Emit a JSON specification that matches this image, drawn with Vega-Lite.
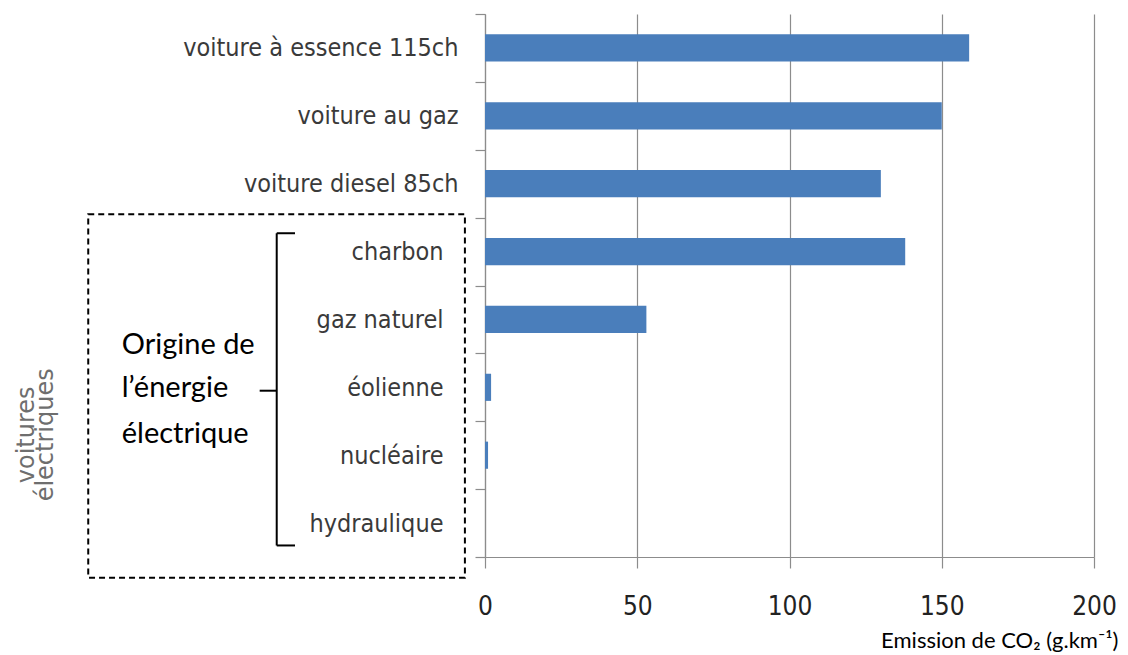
{
  "$schema": "https://vega.github.io/schema/vega-lite/v6.json",
  "autosize": {"type": "none"},
  "padding": {"left": 485, "top": 14, "right": 34, "bottom": 98},
  "width": 609,
  "height": 543,
  "background": "white",
  "config": {"view": {"stroke": null}},
  "datasets": {
    "emissions": [
      {"categorie": "voiture à essence 115ch", "emission": 159},
      {"categorie": "voiture au gaz", "emission": 150},
      {"categorie": "voiture diesel 85ch", "emission": 130},
      {"categorie": "charbon", "emission": 138},
      {"categorie": "gaz naturel", "emission": 53},
      {"categorie": "éolienne", "emission": 2},
      {"categorie": "nucléaire", "emission": 1},
      {"categorie": "hydraulique", "emission": 0}
    ],
    "cadre": [{"x0": -130.3, "x1": -6.6, "y0": 2.95, "y1": 8.305}],
    "accolade": [
      {"xa": -68.4, "xb": -68.4, "ya": 3.23, "yb": 7.83},
      {"xa": -68.4, "xb": -62.4, "ya": 3.23, "yb": 3.23},
      {"xa": -68.4, "xb": -62.4, "ya": 7.83, "yb": 7.83},
      {"xa": -74.0, "xb": -68.4, "ya": 5.55, "yb": 5.55}
    ],
    "origine": [
      {"texte": "Origine de", "x": -119.3, "y": 5.01},
      {"texte": "l’énergie", "x": -119.3, "y": 5.64},
      {"texte": "électrique", "x": -119.3, "y": 6.32}
    ],
    "groupe": [{"texte": "voitures\nélectriques", "x": -150.5, "y": 6.2}]
  },
  "layer": [
    {
      "data": {"name": "emissions"},
      "mark": {"type": "bar", "color": "#4a7ebb", "height": {"band": 0.4}},
      "encoding": {
        "y": {
          "field": "categorie",
          "type": "nominal",
          "sort": null,
          "scale": {"paddingInner": 0, "paddingOuter": 0},
          "axis": {
            "title": null,
            "domainColor": "#8c8c8c",
            "domainWidth": 1.2,
            "tickColor": "#8c8c8c",
            "tickWidth": 1.2,
            "tickSize": 10,
            "tickBand": "extent",
            "labelPadding": {
              "condition": {"test": "indexof(['voiture à essence 115ch','voiture au gaz','voiture diesel 85ch'], datum.value) >= 0", "value": 17},
              "value": 32
            },
            "labelFont": "Liberation Sans Narrow, DejaVu Sans Condensed, sans-serif",
            "labelFontSize": 25,
            "labelColor": "#3a3a3a",
            "labelLimit": 400,
            "grid": false
          }
        },
        "x": {
          "field": "emission",
          "type": "quantitative",
          "scale": {"domain": [0, 200], "nice": false},
          "axis": {
            "values": [0, 50, 100, 150, 200],
            "grid": true,
            "gridColor": "#8c8c8c",
            "gridWidth": 1.2,
            "gridOpacity": 1,
            "domainColor": "#8c8c8c",
            "domainWidth": 1.2,
            "tickColor": "#8c8c8c",
            "tickWidth": 1.2,
            "tickSize": 11,
            "labelFlush": false,
            "labelPadding": 25,
            "labelFont": "Liberation Sans Narrow, DejaVu Sans Condensed, sans-serif",
            "labelFontSize": 26,
            "labelColor": "#222222",
            "title": "Emission de CO₂ (g.km⁻¹)",
            "titleFont": "Lato",
            "titleFontSize": 22,
            "titleFontWeight": "normal",
            "titleColor": "#000000",
            "titleAlign": "right",
            "titleBaseline": "alphabetic",
            "titleX": 633,
            "titleY": 90
          }
        }
      }
    },
    {
      "layer": [
        {
          "data": {"name": "cadre"},
          "mark": {"type": "rect", "fill": null, "stroke": "#000000", "strokeWidth": 2, "strokeDash": [6, 4]},
          "encoding": {
            "x": {"field": "x0", "type": "quantitative", "scale": {"domain": [0, 200], "nice": false}},
            "x2": {"field": "x1"},
            "y": {"field": "y0", "type": "quantitative", "scale": {"domain": [0, 8], "reverse": true, "nice": false, "zero": false}, "axis": null},
            "y2": {"field": "y1"}
          }
        },
        {
          "data": {"name": "accolade"},
          "mark": {"type": "rule", "stroke": "#000000", "strokeWidth": 2},
          "encoding": {
            "x": {"field": "xa", "type": "quantitative", "scale": {"domain": [0, 200], "nice": false}},
            "x2": {"field": "xb"},
            "y": {"field": "ya", "type": "quantitative"},
            "y2": {"field": "yb"}
          }
        },
        {
          "data": {"name": "origine"},
          "mark": {"type": "text", "align": "left", "baseline": "alphabetic", "font": "Lato", "fontSize": 29, "color": "#000000"},
          "encoding": {
            "x": {"field": "x", "type": "quantitative", "scale": {"domain": [0, 200], "nice": false}},
            "y": {"field": "y", "type": "quantitative"},
            "text": {"field": "texte"}
          }
        },
        {
          "data": {"name": "groupe"},
          "mark": {"type": "text", "align": "center", "baseline": "middle", "angle": 270, "font": "DejaVu Sans", "fontSize": 24, "letterSpacing": 3, "lineBreak": "\n", "lineHeight": 19, "color": "#6e6e6e"},
          "encoding": {
            "x": {"field": "x", "type": "quantitative", "scale": {"domain": [0, 200], "nice": false}},
            "y": {"field": "y", "type": "quantitative"},
            "text": {"field": "texte"}
          }
        }
      ]
    }
  ],
  "resolve": {"scale": {"y": "independent"}, "axis": {"y": "independent"}}
}
